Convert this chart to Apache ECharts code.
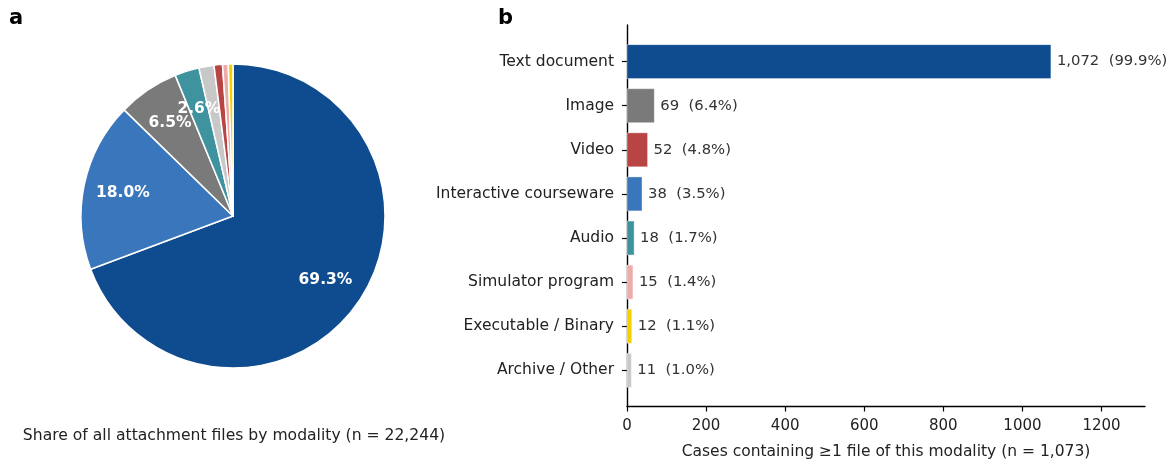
<!DOCTYPE html>
<html><head><meta charset="utf-8">
<script src="https://cdn.jsdelivr.net/npm/echarts@6/dist/echarts.min.js"></script>
<style>html,body{margin:0;padding:0;background:#fff}#c{width:1171px;height:462px}</style>
</head><body><div id="c"></div>
<script>
// ---- Panel a: pie (file counts by modality, n = 22,244) ----
const pieNames = ['Text document','Interactive courseware','Image','Audio','Archive / Other','Video','Simulator program','Executable / Binary'];
const pieValues = [15415, 4004, 1446, 578, 356, 200, 134, 111];
const pieColors = ['#0f4c8f','#3a76bb','#7a7a7a','#3f939f','#c8c8c8','#b94444','#efaaaa','#f5d000'];

// ---- Panel b: bars (cases containing >=1 file, n = 1,073) ----
const barCategories = ['Text document','Image','Video','Interactive courseware','Audio','Simulator program','Executable / Binary','Archive / Other'];
const barValues = [1072, 69, 52, 38, 18, 15, 12, 11];
const barPctLabels = ['99.9%','6.4%','4.8%','3.5%','1.7%','1.4%','1.1%','1.0%'];
const barColors = ['#0f4c8f','#7a7a7a','#b94444','#3a76bb','#3f939f','#efaaaa','#f5d000','#c8c8c8'];
const xTicks = [0, 200, 400, 600, 800, 1000, 1200];

const FONT = 'DejaVu Sans';
const pieTotal = pieValues.reduce((a, b) => a + b, 0);
const pieData = pieNames.map((n, i) => ({ name: n, value: pieValues[i], itemStyle: { color: pieColors[i] } }));
const catIdx = barCategories.map((_, i) => i);

const chart = echarts.init(document.getElementById('c'), null, { renderer: 'canvas' });
chart.setOption({
  animation: false,
  textStyle: { fontFamily: FONT },
  title: [
    { text: 'a', left: 4, top: 3, textStyle: { fontFamily: FONT, fontSize: 21, fontWeight: 'bold', color: '#000' } },
    { text: 'b', left: 493, top: 3, textStyle: { fontFamily: FONT, fontSize: 21, fontWeight: 'bold', color: '#000' } },
    { text: 'Share of all attachment files by modality (n = 22,244)', left: 229, textAlign: 'center', top: 423,
      textStyle: { fontFamily: FONT, fontSize: 15.6, fontWeight: 'normal', color: '#222' } }
  ],
  grid: { left: 627, right: 26, top: 25, bottom: 55.5, containLabel: false, outerBoundsMode: 'none' },
  xAxis: {
    type: 'value', min: 0, max: 1310,
    axisLine: { show: true, onZero: false, lineStyle: { color: '#000', width: 1.4 } },
    axisTick: { show: true, length: 5, lineStyle: { color: '#000', width: 1.2 }, customValues: xTicks },
    axisLabel: { fontFamily: FONT, fontSize: 15, color: '#222', margin: 12, customValues: xTicks,
      formatter: v => String(v) },
    splitLine: { show: false },
    name: 'Cases containing \u22651 file of this modality (n = 1,073)',
    nameLocation: 'middle', nameGap: 37,
    nameTextStyle: { fontFamily: FONT, fontSize: 15.5, color: '#222' }
  },
  yAxis: {
    type: 'value', inverse: true, min: -0.83, max: 7.82,
    axisLine: { show: true, onZero: false, lineStyle: { color: '#000', width: 1.4 } },
    axisTick: { show: true, length: 5, lineStyle: { color: '#000', width: 1.2 }, customValues: catIdx },
    axisLabel: { fontFamily: FONT, fontSize: 15.5, color: '#222', margin: 13, customValues: catIdx,
      formatter: v => barCategories[Math.round(v)] },
    splitLine: { show: false }
  },
  series: [
    {
      type: 'pie', center: [233, 216], radius: [0, 152], startAngle: 90, clockwise: true,
      avoidLabelOverlap: false, silent: true,
      itemStyle: { borderColor: '#fff', borderWidth: 1.5 },
      label: { show: false }, labelLine: { show: false },
      data: pieData
    },
    {
      type: 'pie', center: [233, 216], radius: [67, 152], startAngle: 90, clockwise: true,
      avoidLabelOverlap: false, silent: true,
      itemStyle: { color: 'rgba(0,0,0,0)', borderWidth: 0 },
      labelLine: { show: false },
      label: {
        show: true, position: 'inside', color: '#fff', fontFamily: FONT, fontWeight: 'bold', fontSize: 15.5,
        formatter: p => { const pct = p.value / pieTotal * 100; return pct >= 2 ? pct.toFixed(1) + '%' : ''; }
      },
      labelLayout: { hideOverlap: false },
      data: pieNames.map((n, i) => ({ name: n, value: pieValues[i] }))
    },
    {
      type: 'custom', silent: true,
      data: barValues.map((v, i) => [v, i]),
      encode: { x: 0, y: 1 },
      renderItem: (params, api) => {
        const v = api.value(0), i = api.value(1);
        const s = api.coord([0, i]);
        const e = api.coord([v, i]);
        const h = api.size([0, 0.77])[1];
        return {
          type: 'group',
          children: [
            { type: 'rect', shape: { x: s[0], y: s[1] - h / 2, width: e[0] - s[0], height: h },
              style: { fill: barColors[i], stroke: 'rgba(255,255,255,0.6)', lineWidth: 0.6 } },
            { type: 'text', x: e[0] + 6, y: e[1],
              style: { text: v.toLocaleString('en-US') + '  (' + barPctLabels[i] + ')',
                fill: '#333', font: '14.8px "' + FONT + '"', verticalAlign: 'middle', align: 'left' } }
          ]
        };
      }
    }
  ]
});
</script>
</body></html>
